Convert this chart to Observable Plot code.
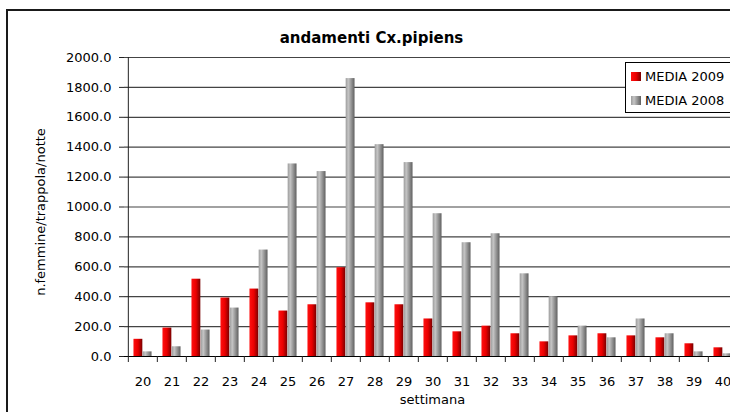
<!DOCTYPE html>
<html>
<head>
<meta charset="utf-8">
<script src="https://cdn.jsdelivr.net/npm/d3@7"></script>
<script src="https://cdn.jsdelivr.net/npm/@observablehq/plot@0.6"></script>
<style>
  html, body { margin: 0; padding: 0; background: #fff; }
  #chart svg { display: block; }
</style>
</head>
<body>
<div id="chart"></div>
<script>
// ---- data ----
const title = "andamenti Cx.pipiens";
const xLabel = "settimana";
const yLabel = "n.femmine/trappola/notte";
const weeks = [20, 21, 22, 23, 24, 25, 26, 27, 28, 29, 30, 31, 32, 33, 34, 35, 36, 37, 38, 39, 40];
const seriesNames = ["MEDIA 2009", "MEDIA 2008"];
const media2009 = [115, 190, 517, 391, 451, 304, 346, 594, 359, 346, 251, 165, 203, 152, 98, 138, 152, 138, 125, 85, 58];
const media2008 = [31, 65, 177, 324, 712, 1288, 1237, 1859, 1417, 1297, 955, 761, 821, 553, 400, 203, 125, 251, 152, 31, 18];
const yTicks = [0, 200, 400, 600, 800, 1000, 1200, 1400, 1600, 1800, 2000];

// ---- tables built from the arrays ----
const rows2009 = weeks.map((w, i) => ({week: w, value: media2009[i], series: seriesNames[0]}));
const rows2008 = weeks.map((w, i) => ({week: w, value: media2008[i], series: seriesNames[1]}));

const W = 730, H = 412;
const mL = 124, mR = -10, mT = 57, mB = 56;
const step = (W - mL - mR) / weeks.length;
const bw = 9.2;
const font = "'DejaVu Sans', sans-serif";

const gradients = {
  gRed: [[0, "#ff1010"], [0.5, "#ea0000"], [1, "#780000"]],
  gGray: [[0, "#9c9c9c"], [0.3, "#c4c4c4"], [1, "#606060"]]
};
const seriesFill = ["url(#gRed)", "url(#gGray)"];

const defsMark = () => {
  const defs = d3.create("svg:defs");
  for (const [id, stops] of Object.entries(gradients)) {
    const lg = defs.append("linearGradient").attr("id", id)
      .attr("x1", 0).attr("x2", 1).attr("y1", 0).attr("y2", 0);
    for (const [o, c] of stops) lg.append("stop").attr("offset", o).attr("stop-color", c);
  }
  return defs.node();
};

const frameMark = (index, scales, values, dims) => {
  const g = d3.create("svg:g");
  g.append("path")
    .attr("d", `M7,${dims.height} V10 H${dims.width}`)
    .attr("fill", "none").attr("stroke", "#1a1a1a").attr("stroke-width", 2);
  return g.node();
};

const legendMark = () => {
  const g = d3.create("svg:g").attr("font-family", font).attr("font-size", 13)
    .attr("text-anchor", "start");
  g.append("rect").attr("x", 625.5).attr("y", 62.5).attr("width", 120).attr("height", 50)
    .attr("fill", "#fff").attr("stroke", "#000").attr("stroke-width", 1);
  seriesNames.forEach((name, i) => {
    const y0 = 72 + i * 24;
    g.append("rect").attr("x", 631).attr("y", y0).attr("width", 10).attr("height", 9)
      .attr("fill", seriesFill[i]);
    g.append("text").attr("x", 645).attr("y", y0 + 9).attr("fill", "#000")
      .attr("text-anchor", "start").text(name);
  });
  return g.node();
};

const chart = Plot.plot({
  width: W,
  height: H,
  marginLeft: mL,
  marginRight: mR,
  marginTop: mT,
  marginBottom: mB,
  style: {fontFamily: font, fontSize: "13px", color: "#000", background: "#fff"},
  x: {type: "band", domain: weeks, padding: 0, label: null},
  y: {domain: [0, yTicks[yTicks.length - 1]], label: null},
  marks: [
    defsMark,
    Plot.gridY(yTicks, {stroke: "#444", strokeOpacity: 1, strokeWidth: 1.2}),
    Plot.barY(rows2009, {x: "week", y: "value", fill: seriesFill[0], insetLeft: step / 2 - bw, insetRight: step / 2}),
    Plot.barY(rows2008, {x: "week", y: "value", fill: seriesFill[1], insetLeft: step / 2, insetRight: step / 2 - bw}),
    Plot.ruleY([0], {stroke: "#000"}),
    Plot.ruleX([weeks[0]], {dx: -step / 2, stroke: "#222"}),
    Plot.axisY(yTicks, {tickSize: 5, tickPadding: 8, tickFormat: d3.format(".1f"), label: null, stroke: "#222"}),
    Plot.axisX({tickSize: 6, tickFormat: () => "", dx: -step / 2, label: null, stroke: "#222"}),
    Plot.axisX({tickSize: 0, tickPadding: 20, label: null}),
    Plot.text([title], {frameAnchor: "top", dx: 371 - (mL + (W - mL - mR) / 2), dy: -25, fontWeight: "bold", fontSize: 15}),
    Plot.text([yLabel], {frameAnchor: "left", textAnchor: "middle", dx: -84, dy: 5, rotate: -90, fontSize: 13}),
    Plot.text([xLabel], {frameAnchor: "bottom", dy: 47, fontSize: 13}),
    legendMark,
    frameMark
  ]
});

document.getElementById("chart").appendChild(chart);
</script>
</body>
</html>
